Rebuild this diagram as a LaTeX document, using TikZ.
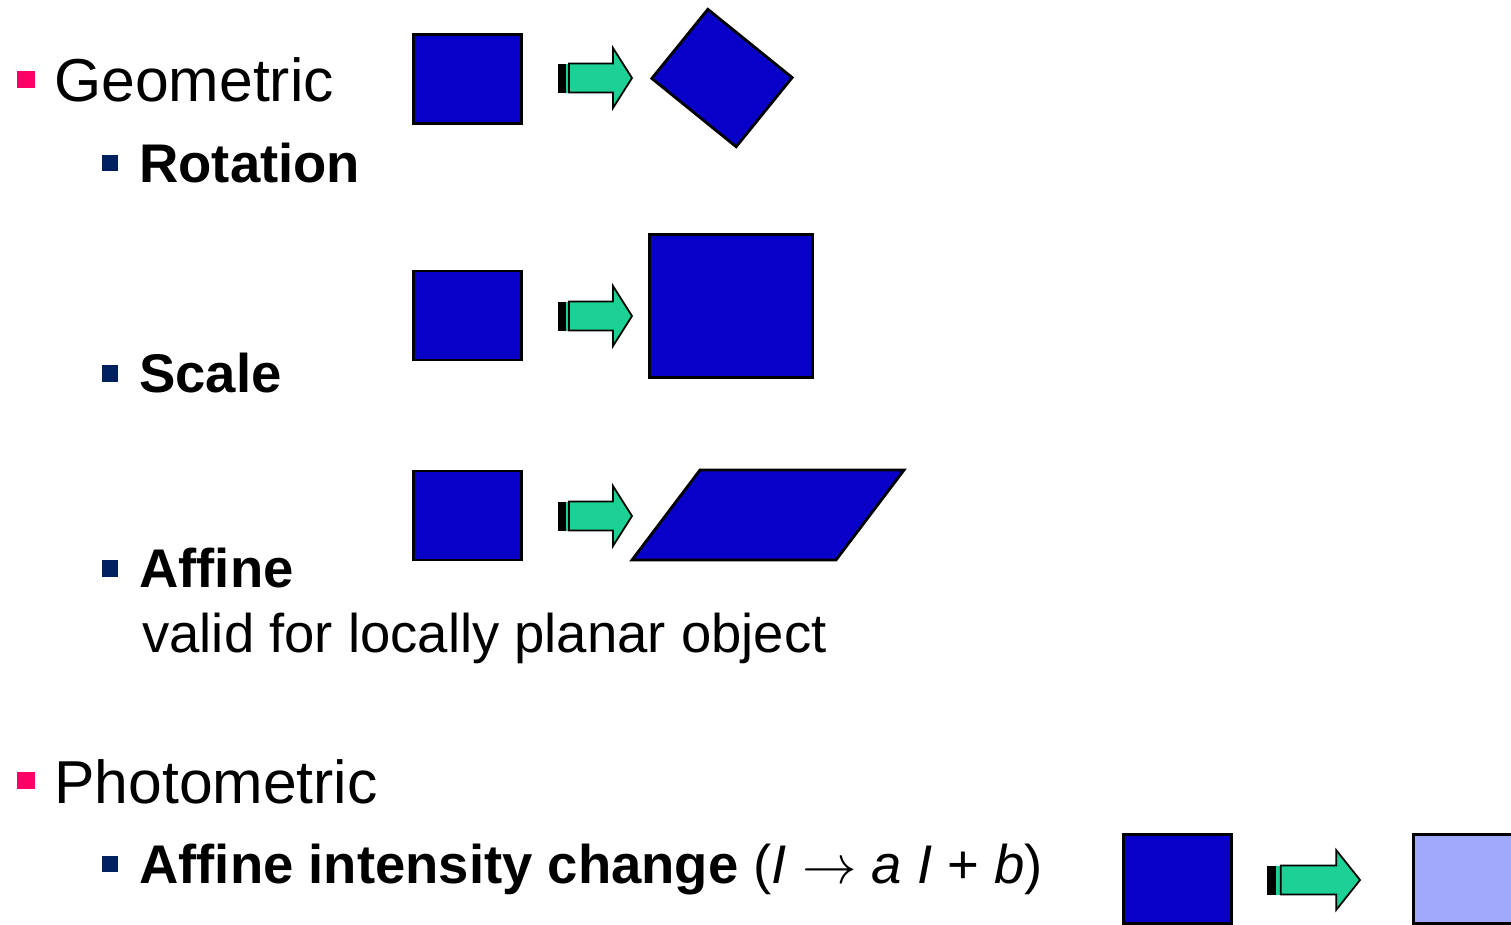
\RequirePackage{fix-cm}
\documentclass[tikz,border=0pt]{standalone}
\usepackage{fontspec}
\setmainfont{Liberation Sans}
\usetikzlibrary{positioning}

\definecolor{shapeblue}{RGB}{8,0,200}
\definecolor{lightblue}{RGB}{160,168,250}
\definecolor{arrowgreen}{RGB}{28,208,150}
\definecolor{bulletpink}{RGB}{255,0,102}
\definecolor{bulletnavy}{RGB}{0,32,96}

\tikzset{
  headline/.style={anchor=base west,inner sep=0pt,font=\fontsize{34.5}{40}\selectfont},
  subline/.style={anchor=base west,inner sep=0pt,font=\fontsize{31}{37}\selectfont\bfseries},
  plainline/.style={anchor=base west,inner sep=0pt,font=\fontsize{31}{37}\selectfont},
  box/.style={draw,line width=1.6pt,fill=shapeblue,inner sep=0pt,
    minimum width=2.17cm,minimum height=1.78cm},
  pics/greenarrow/.style={code={
    \fill[black] (0,-14.5) rectangle (7.5,14.5);
    \fill[arrowgreen] (7.5,-14.5) rectangle (10,14.5);
    \draw[line width=1pt,fill=arrowgreen] (11,-14.5) -- (55,-14.5) -- (55,-30)
      -- (74,0) -- (55,30) -- (55,14.5) -- (11,14.5) -- cycle;
  }}
}

\begin{document}
\begin{tikzpicture}[x=0.02cm,y=-0.02cm]
  \useasboundingbox (0,0) rectangle (1511,924);
  \clip (0,0) rectangle (1511,924);

  % bullets
  \fill[bulletpink] (17,71) rectangle (35,88);
  \fill[bulletpink] (17,772) rectangle (35,789);
  \fill[bulletnavy] (102,155) rectangle (118,171);
  \fill[bulletnavy] (102,365) rectangle (118,382);
  \fill[bulletnavy] (102,560) rectangle (118,577);
  \fill[bulletnavy] (102,856) rectangle (118,872);

  % texts
  \node (geo) [headline] at (54,101) {Geometric};
  \node (rot) [subline] at (139,182) {Rotation};
  \node (scl) [subline] at (139,392) {Scale};
  \node (aff) [subline] at (139,587) {Affine};
  \node (valid) [plainline] at (142,652) {valid for locally planar object};
  \node (photo) [headline] at (54,803) {Photometric};
  \node (inten) [subline] at (139,883) {Affine intensity change
    \mdseries({\itshape I} $\rightarrow$ {\itshape a I} + {\itshape b})};

  % rotation
  \node (rotfrom) [box] at (467.5,79) {};
  \pic at (558,78) {greenarrow};
  \node (rotto) [box,rotate=-39] at (722,78) {};

  % scale
  \node (sclfrom) [box] at (467.5,315.5) {};
  \pic at (558,316) {greenarrow};
  \node (sclto) [box,minimum width=3.26cm,minimum height=2.86cm] at (731,306) {};

  % affine
  \node (afffrom) [box] at (467.5,515.5) {};
  \pic at (558,516) {greenarrow};
  \draw[line width=1.6pt,fill=shapeblue] (632,560) -- (700,470) -- (904,470)
    -- (836,560) -- cycle;

  % intensity
  \node (intfrom) [box] at (1177.5,879) {};
  \pic[xscale=1.257] at (1267,880) {greenarrow};
  \node (intto) [box,fill=lightblue] at (1468,879) {};
\end{tikzpicture}
\end{document}
